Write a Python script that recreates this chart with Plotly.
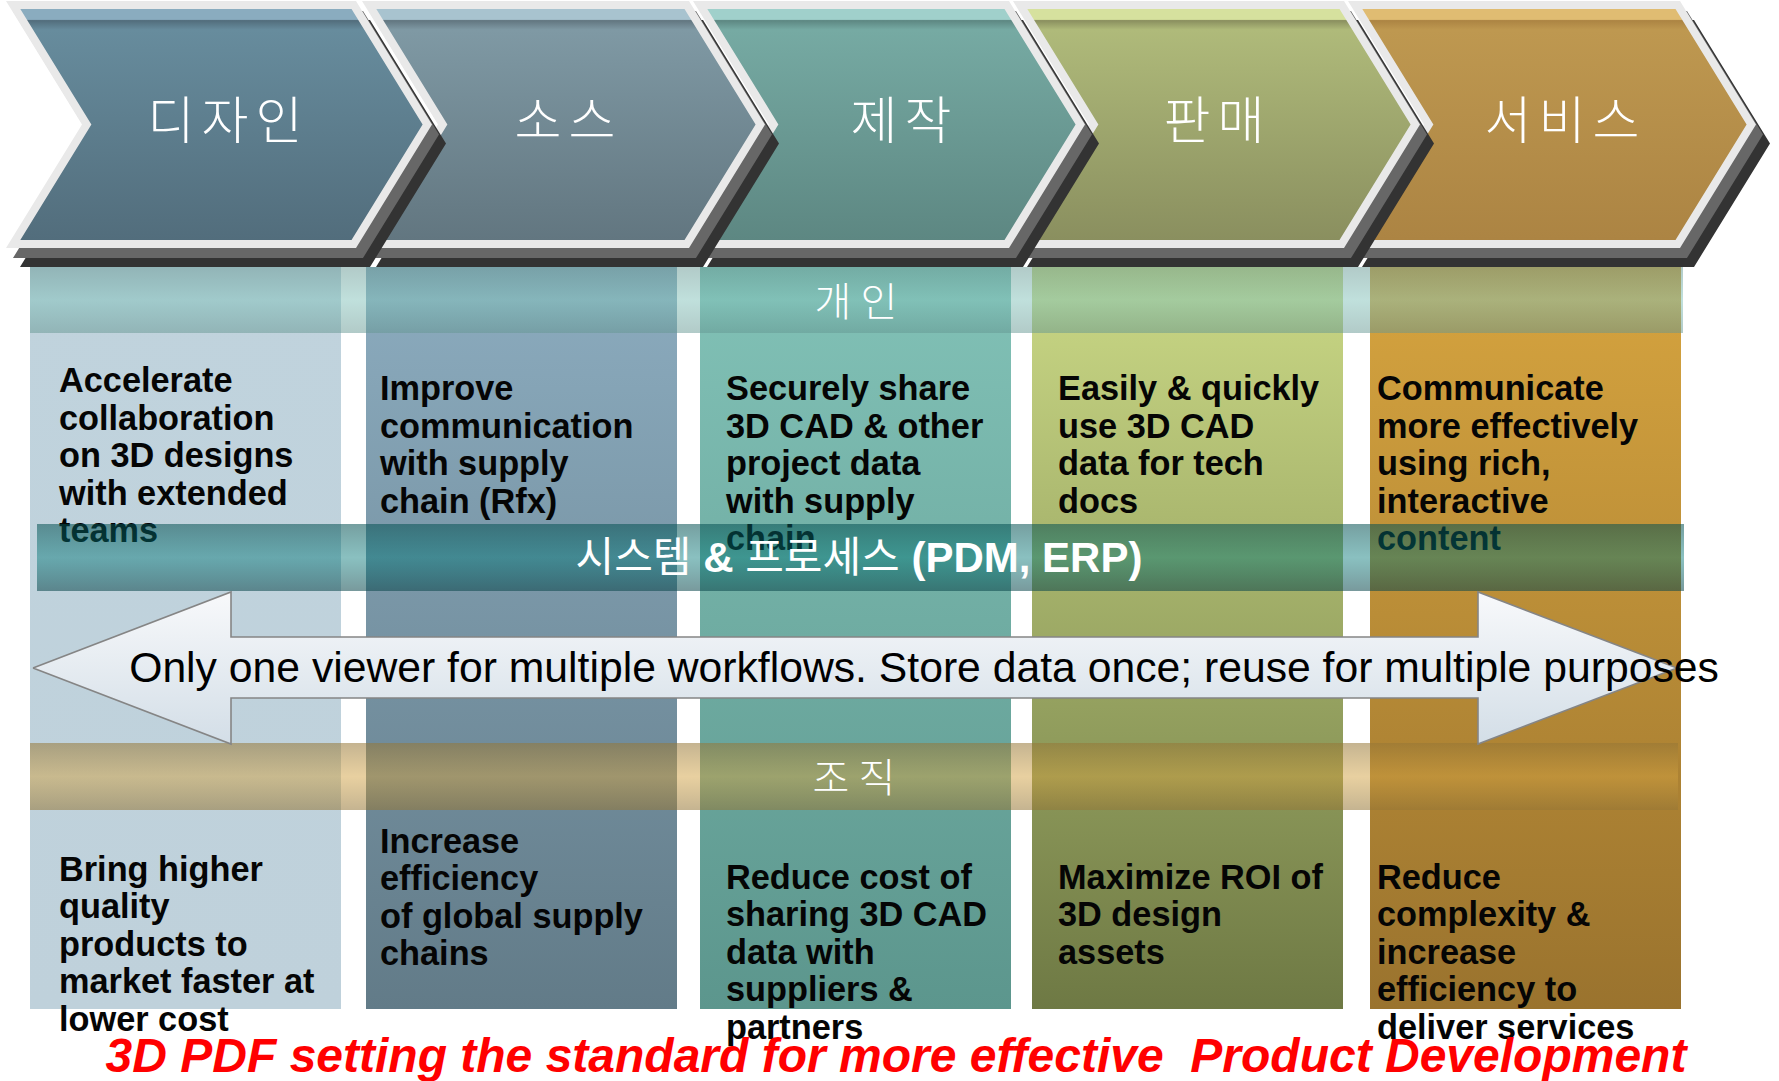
import math
import plotly.graph_objects as go

W, H = 1779, 1081

# ---------------- data ----------------
stages = ['디자인', '소스', '제작', '판매', '서비스']
individual_label = '개인'
organization_label = '조직'
system_label = '시스템 <b>&</b> 프로세스 <b>(PDM, ERP)</b>'
arrow_text = 'Only one viewer for multiple workflows. Store data once; reuse for multiple purposes'
title_text = '3D PDF setting the standard for more effective  Product Development'

individual_goals = [
    ['Accelerate', 'collaboration', 'on 3D designs', 'with extended', 'teams'],
    ['Improve', 'communication', 'with supply', 'chain (Rfx)'],
    ['Securely share', '3D CAD & other', 'project data', 'with supply', 'chain'],
    ['Easily & quickly', 'use 3D CAD', 'data for tech', 'docs'],
    ['Communicate', 'more effectively', 'using rich,', 'interactive', 'content'],
]
organization_goals = [
    ['Bring higher', 'quality', 'products to', 'market faster at', 'lower cost'],
    ['Increase', 'efficiency', 'of global supply', 'chains'],
    ['Reduce cost of', 'sharing 3D CAD', 'data with', 'suppliers &', 'partners'],
    ['Maximize ROI of', '3D design', 'assets'],
    ['Reduce', 'complexity &', 'increase', 'efficiency to', 'deliver services'],
]

# styles
chevron_strip = ['#8aacbf', '#a8c3cf', '#a0d0cb', '#d6e19e', '#e0bc72']
chevron_top = ['#678c9d', '#7f99a4', '#76aaa3', '#afba7a', '#be9850']
chevron_bottom = ['#526d7c', '#627680', '#5d8782', '#8a8f5f', '#ac8443']
column_top = ['#c0d3dd', '#8cacbf', '#82c2b7', '#cbd986', '#d6a43f']
column_bottom = ['#bfd1db', '#627b88', '#5c968d', '#6e7944', '#9a732e']

# ---------------- layout geometry ----------------
col_left = [30, 366, 700, 1032, 1370]
col_w = 311
col_top, col_bot = 267, 1009
text_x = [59, 380, 726, 1058, 1377]
top_first_y = [383.5, 391.5, 391.5, 391.5, 391.5]
bot_first_y = [872, 844, 880, 880, 880]
line_gap = 37.6

chev_L = [6, 362, 693, 1013, 1348]
chev_R = [356, 689, 1009, 1344, 1680]
chev_d = 76
chev_top, chev_bot = 1, 248
label_x = [225, 565, 901, 1214, 1562]
label_y = 126.5
label_pitch = 54
band_pitch = 46

fig = go.Figure()


def add_poly(xs, ys, fillcolor=None, stops=None, y0=None, y1=None, line=None):
    kw = {}
    if stops is not None:
        kw['fillgradient'] = dict(type='vertical', colorscale=stops, start=y0, stop=y1)
    else:
        kw['fillcolor'] = fillcolor
    fig.add_trace(go.Scatter(
        x=list(xs) + [xs[0]], y=list(ys) + [ys[0]], mode='lines', fill='toself',
        line=line if line is not None else dict(width=0, color='rgba(0,0,0,0)'),
        hoverinfo='skip', showlegend=False, **kw))


def add_text(xs, ys, texts, size, color='#000', family='Liberation Sans, Arial, sans-serif',
             weight='normal', style='normal', pos='middle right'):
    fig.add_trace(go.Scatter(
        x=xs, y=ys, text=texts, mode='text', textposition=pos,
        textfont=dict(family=family, size=size, color=color, weight=weight, style=style),
        hoverinfo='skip', showlegend=False, cliponaxis=False))


def spaced_label(word, cx, cy, pitch, size):
    n = len(word)
    xs = [cx + (j - (n - 1) / 2.0) * pitch for j in range(n)]
    add_text(xs, [cy] * n, list(word), size, color='white',
             family='Noto Sans CJK KR, sans-serif', weight=300, pos='middle center')


def rect(x0, x1, y0, y1):
    return [x0, x1, x1, x0], [y0, y0, y1, y1]


# ---------------- columns ----------------
for i in range(5):
    xs, ys = rect(col_left[i], col_left[i] + col_w, col_top, col_bot)
    add_poly(xs, ys, stops=[[0, column_top[i]], [1, column_bottom[i]]], y0=col_top, y1=col_bot)

# ---------------- 개인 band ----------------
xs, ys = rect(30, 1683, 267, 333)
add_poly(xs, ys, stops=[[0, 'rgba(100,150,145,0.5)'], [0.5, 'rgba(129,193,185,0.5)'],
                        [1, 'rgba(100,150,145,0.5)']], y0=267, y1=333)


# ---------------- chevrons ----------------
def chevron(L, R, d, top, bot, inset=0.0):
    mid = (top + bot) / 2.0
    h = mid - top
    s = inset / math.cos(math.atan(d / h))
    t = top + inset
    b = bot - inset
    k = d / h
    xs = [L + s + (t - top) * k, R - s + (t - top) * k, R + d - s,
          R - s + (t - top) * k, L + s + (t - top) * k, L + d + s]
    ys = [t, t, mid, b, b, mid]
    return xs, ys


for i in reversed(range(5)):
    L, R = chev_L[i], chev_R[i]
    xs, ys = chevron(L, R, chev_d, chev_top, chev_bot)
    add_poly([x + 14 for x in xs], [y + 19 for y in ys], fillcolor='#333333')
    add_poly([x + 7 for x in xs], [y + 10 for y in ys], fillcolor='#676767')
    add_poly(xs, ys, fillcolor='#e9e9e9')
    xs2, ys2 = chevron(L, R, chev_d, chev_top, chev_bot, inset=8)
    add_poly(xs2, ys2, stops=[[0, chevron_strip[i]], [0.045, chevron_strip[i]],
                              [0.05, chevron_bottom[i]], [0.09, chevron_top[i]],
                              [1, chevron_bottom[i]]],
             y0=chev_top + 8, y1=chev_bot - 8)

for i, word in enumerate(stages):
    spaced_label(word, label_x[i], label_y, label_pitch, 51)

# ---------------- top texts (under system band) ----------------
for i, lines in enumerate(individual_goals):
    add_text([text_x[i]] * len(lines), [top_first_y[i] + k * line_gap for k in range(len(lines))],
             lines, 34.3, color='#050505', weight='bold')

# ---------------- system band ----------------
xs, ys = rect(37, 1684, 524, 591)
add_poly(xs, ys, stops=[[0, 'rgba(5,80,82,0.55)'], [0.5, 'rgba(0,118,118,0.46)'],
                        [1, 'rgba(10,70,75,0.55)']], y0=524, y1=591)
add_text([859], [561], [system_label], 42, color='white',
         family='Liberation Sans, Noto Sans CJK KR, sans-serif', pos='middle center')

# ---------------- 조직 band ----------------
xs, ys = rect(30, 1678, 743, 810)
add_poly(xs, ys, stops=[[0, 'rgba(149,118,54,0.55)'], [0.5, 'rgba(209,161,65,0.5)'],
                        [1, 'rgba(149,118,54,0.55)']], y0=743, y1=810)

# ---------------- arrow ----------------
ax = [33, 231, 231, 1478, 1478, 1677, 1478, 1478, 231, 231]
ay = [668, 592, 637, 637, 592, 668, 744, 698, 698, 744]
add_poly(ax, ay, stops=[[0, '#f8f9fb'], [1, '#d3dee7']], y0=592, y1=744,
         line=dict(width=1.6, color='#858585'))
add_text([924], [671.5], [arrow_text], 42.7, color='#000', pos='middle center')

# ---------------- bottom texts ----------------
for i, lines in enumerate(organization_goals):
    add_text([text_x[i]] * len(lines), [bot_first_y[i] + k * line_gap for k in range(len(lines))],
             lines, 34.3, color='#050505', weight='bold')

# band labels
spaced_label(individual_label, 856, 305.5, band_pitch, 40)
spaced_label(organization_label, 854, 781.5, band_pitch, 40)

# ---------------- title ----------------
add_text([896], [1059.5], [title_text], 48, color='#ff0000', weight='bold', style='italic',
         pos='middle center')

fig.update_layout(
    width=W, height=H, margin=dict(l=0, r=0, t=0, b=0),
    paper_bgcolor='white', plot_bgcolor='white',
    xaxis=dict(range=[0, W], visible=False, fixedrange=True),
    yaxis=dict(range=[H, 0], visible=False, fixedrange=True),
)
fig.write_html("out.html", config={'displayModeBar': False},
               post_script="document.body.style.margin='0';document.body.style.overflow='hidden';")
